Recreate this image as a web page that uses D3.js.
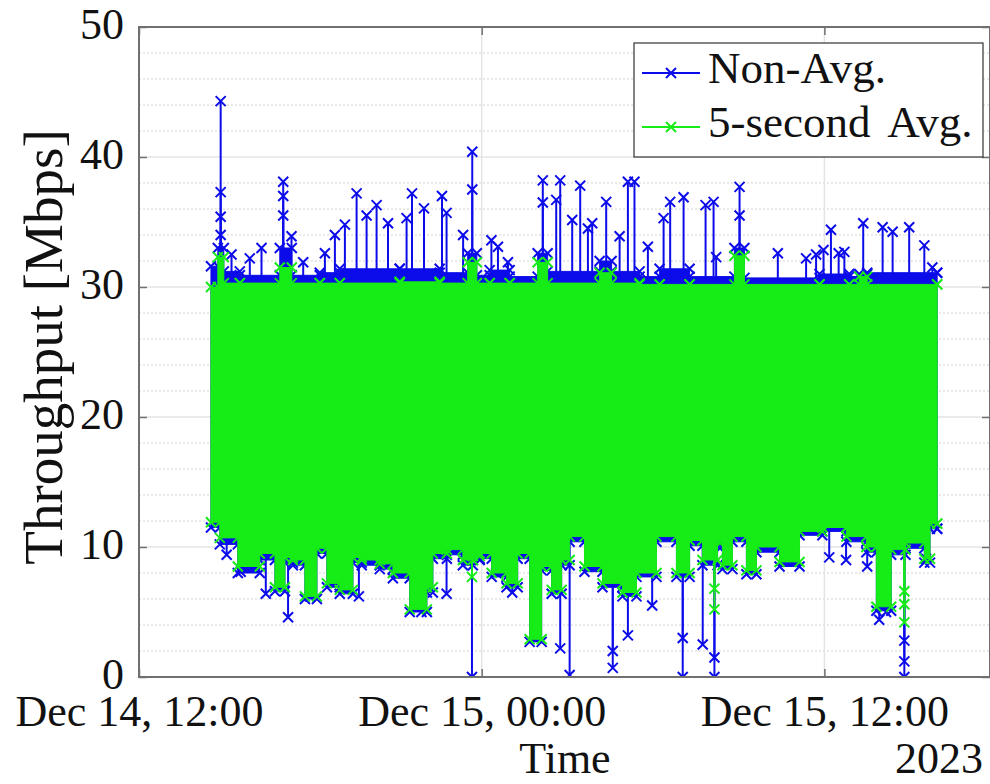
<!DOCTYPE html>
<html>
<head>
<meta charset="utf-8">
<script src="https://cdn.jsdelivr.net/npm/d3@7"></script>
<style>
  body { margin: 0; background: #fff; }
  text { font-family: "Liberation Serif", "Times New Roman", serif; fill: #111; }
</style>
</head>
<body>
<div id="chart"></div>
<script>
// hours after Dec 14 2023, 12:00
var startTime = new Date(2023, 11, 14, 12, 0);
var endHours = 29.8;

// lower edge of the dense band (step start times, values)
var lowT = [2.52, 2.83, 3.46, 4.23, 4.76, 5.11, 5.39, 5.81, 6.23, 6.58, 7.03, 7.49, 7.80, 8.43, 8.89,
  9.48, 10.08, 10.29, 10.78, 11.34, 11.69, 11.93, 12.35, 12.87, 13.26, 13.68, 14.10, 14.45, 14.80, 15.08,
  15.60, 16.23, 16.93, 17.42, 18.12, 18.82, 19.28, 19.73, 20.26, 20.43, 20.78, 21.27, 21.62, 22.43, 23.13,
  23.93, 24.77, 25.47, 25.82, 26.34, 26.84, 27.50, 27.70, 27.95];
var greenLow = [11.9, 10.7, 8.5, 9.5, 6.9, 9.2, 9.0, 6.2, 9.9, 7.2, 6.7, 9.2, 9.0, 8.7, 8.0,
  5.2, 6.9, 9.5, 9.8, 9.0, 9.3, 9.5, 8.0, 7.2, 9.5, 2.9, 8.5, 6.7, 9.0, 10.8,
  8.5, 7.2, 6.5, 8.0, 10.8, 8.0, 10.5, 9.0, 10.5, 8.6, 10.8, 8.2, 10.0, 8.85, 11.2,
  11.5, 10.8, 10.0, 5.4, 9.8, 10.3, 9.1, 11.8, 11.8];
var blueLow = [11.5, 10.2, 8.0, 9.0, 6.6, 8.8, 8.6, 6.0, 9.5, 6.9, 6.4, 8.8, 8.6, 8.3, 7.6,
  5.0, 6.5, 9.1, 9.4, 8.6, 9.0, 9.1, 7.7, 6.9, 9.1, 2.7, 8.2, 6.4, 8.6, 10.4,
  8.1, 6.9, 6.2, 7.7, 10.4, 7.7, 10.1, 8.6, 10.1, 8.3, 10.4, 7.9, 9.6, 8.5, 10.9,
  11.2, 10.4, 9.6, 5.1, 9.4, 9.9, 8.8, 11.4, 11.4];

// upper edge of the dense band
var topT = [2.52, 2.76, 2.97, 3.53, 4.93, 5.35, 6.33, 7.03, 9.13, 10.53, 11.51, 11.83, 12.28, 12.98,
  13.96, 14.31, 16.13, 16.55, 17.53, 18.23, 19.28, 20.85, 21.20, 23.83, 24.87, 25.22, 25.50, 27.95];
var greenTop = [30.0, 32.3, 30.3, 30.3, 31.5, 30.3, 30.3, 30.3, 30.4, 30.3, 31.9, 30.3, 30.3, 30.3,
  31.9, 30.3, 31.1, 30.3, 30.2, 30.2, 30.2, 32.4, 30.2, 30.2, 30.2, 30.8, 30.2, 30.2];
var blueTop = [31.6, 33.0, 31.2, 30.9, 33.0, 30.9, 31.1, 31.4, 31.4, 31.1, 32.6, 30.9, 31.3, 30.8,
  32.6, 31.2, 32.0, 31.2, 30.8, 31.4, 30.8, 33.0, 30.7, 31.0, 30.8, 31.0, 31.1, 31.1];

// isolated samples outside the band [hours, Mbps]
var blueSpikes = [
  [2.86, 44.3], [2.86, 37.3], [2.86, 35.4], [2.86, 34.0], [3.24, 32.5], [3.88, 32.2], [4.29, 33.0],
  [5.05, 38.1], [5.05, 37.0], [5.05, 35.5], [5.34, 33.9], [5.75, 31.9], [6.51, 32.6], [6.86, 34.0],
  [7.21, 34.8], [7.62, 37.2], [7.97, 35.5], [8.32, 36.3], [8.72, 34.9], [9.37, 35.3], [9.56, 37.2],
  [9.98, 36.05], [10.61, 37.0], [10.77, 35.7], [11.35, 34.0], [11.67, 40.4], [11.67, 37.5],
  [12.34, 33.6], [12.57, 33.1], [12.92, 31.9], [14.14, 38.2], [14.14, 36.5], [14.61, 36.7],
  [14.75, 38.2], [15.17, 35.15], [15.45, 37.8], [15.72, 34.5], [15.87, 34.9], [16.36, 36.55],
  [16.83, 33.9], [17.12, 38.1], [17.35, 38.1], [17.82, 33.1], [18.37, 35.3], [18.60, 36.55],
  [19.07, 36.9], [19.84, 36.3], [20.12, 36.55], [20.21, 32.3], [21.03, 37.7], [21.03, 35.5],
  [22.37, 32.6], [23.36, 32.2], [23.71, 32.5], [23.97, 32.85], [24.23, 34.4], [24.50, 32.6],
  [24.70, 32.7], [25.36, 34.9], [26.04, 34.6], [26.39, 34.25], [26.97, 34.6], [27.50, 33.2],
  [27.78, 31.5],
  [3.07, 9.4], [3.56, 8.1], [4.44, 6.4], [5.22, 4.6], [5.98, 6.2], [7.70, 6.2], [9.89, 5.0],
  [10.77, 6.4], [11.66, 0.0], [12.51, 8.0], [13.07, 6.5], [14.75, 2.2], [15.08, 0.15], [16.59, 0.7],
  [16.59, 2.0], [17.12, 3.2], [17.97, 5.5], [19.04, 0.0], [19.04, 3.0], [19.74, 2.5], [20.15, 0.0],
  [20.15, 1.5], [24.17, 9.2], [24.76, 9.0], [25.50, 8.5], [25.92, 4.4], [26.16, 5.0], [26.80, 0.0],
  [26.80, 1.2], [26.80, 2.8], [27.56, 9.1]
];
var greenSpikes = [
  [11.66, 7.7], [20.15, 5.2], [20.15, 6.8], [26.80, 4.2], [26.80, 5.6], [26.80, 6.6]
];
var bandMid = 20;

var yTicks = [0, 10, 20, 30, 40, 50];
var seriesNames = ["Non-Avg.", "5-second Avg."];
var blue = "#0c0cea";
var green = "#16ec16";

var svgWidth = 990;
var svgHeight = 784;
var margin = { top: 27, right: 0, bottom: 107, left: 139 };
var chartWidth = svgWidth - margin.left - margin.right;
var chartHeight = svgHeight - margin.top - margin.bottom;

var svg = d3.select("#chart")
  .append("svg")
  .attr("width", svgWidth)
  .attr("height", svgHeight);

var toDate = h => d3.timeSecond.offset(startTime, Math.round(h * 3600));

var x = d3.scaleTime()
  .domain([startTime, toDate(endHours)])
  .range([0, chartWidth]);
var y = d3.scaleLinear()
  .domain([0, 50])
  .range([chartHeight, 0]);

var chartGroup = svg.append("g")
  .attr("transform", `translate(${margin.left}, ${margin.top})`);

svg.append("defs").append("clipPath").attr("id", "clip")
  .append("rect").attr("width", chartWidth).attr("height", chartHeight);

// grid
var xTicks = x.ticks(d3.timeHour.every(12));
chartGroup.selectAll(".minor")
  .data(d3.range(2, 50, 2).filter(v => v % 10 !== 0))
  .enter().append("line")
  .attr("x1", 0).attr("x2", chartWidth)
  .attr("y1", d => y(d)).attr("y2", d => y(d))
  .attr("stroke", "#e2e2e2").attr("stroke-width", 1.5)
  .attr("stroke-dasharray", "2,2");
chartGroup.selectAll(".hgrid")
  .data(yTicks.slice(1, -1))
  .enter().append("line")
  .attr("x1", 0).attr("x2", chartWidth)
  .attr("y1", d => y(d)).attr("y2", d => y(d))
  .attr("stroke", "#e4e4e4").attr("stroke-width", 1.5);
chartGroup.selectAll(".vgrid")
  .data(xTicks.slice(1))
  .enter().append("line")
  .attr("x1", d => x(d)).attr("x2", d => x(d))
  .attr("y1", 0).attr("y2", chartHeight)
  .attr("stroke", "#e4e4e4").attr("stroke-width", 1.5);

var plot = chartGroup.append("g").attr("clip-path", "url(#clip)");
var xMark = "M-5,-5L5,5M-5,5L5,-5";

function stepPoints(ts, vs) {
  return ts.map((t, i) => [t, vs[i]]);
}

function drawSeries(top, low, spikes, color) {
  var topPts = stepPoints(topT, top);
  var lowPts = stepPoints(lowT, low);
  var band = d3.area().curve(d3.curveStepAfter)
    .x(d => x(toDate(d[0]))).y0(y(bandMid)).y1(d => y(d[1]));
  plot.append("path").datum(topPts).attr("d", band)
    .attr("fill", color).attr("stroke", color).attr("stroke-width", 1);
  plot.append("path").datum(lowPts).attr("d", band)
    .attr("fill", color).attr("stroke", color).attr("stroke-width", 1);

  plot.selectAll(null).data(spikes).enter().append("line")
    .attr("x1", d => x(toDate(d[0]))).attr("x2", d => x(toDate(d[0])))
    .attr("y1", y(bandMid)).attr("y2", d => y(d[1]))
    .attr("stroke", color).attr("stroke-width", 2);

  // markers at band edges (both ends of each step) and at the spikes
  var edgePts = [];
  [topPts, lowPts].forEach(pts => {
    pts.forEach((p, i) => {
      edgePts.push(p);
      if (i < pts.length - 1) edgePts.push([pts[i + 1][0], p[1]]);
    });
  });
  plot.selectAll(null).data(edgePts.concat(spikes)).enter().append("path")
    .attr("d", xMark)
    .attr("transform", d => `translate(${x(toDate(d[0]))},${y(d[1])})`)
    .attr("fill", "none").attr("stroke", color).attr("stroke-width", 2);
}

drawSeries(blueTop, blueLow, blueSpikes, blue);
drawSeries(greenTop, greenLow, greenSpikes, green);

// axes
var fmt = d3.timeFormat("%b %d, %H:%M");
var bottomAxis = d3.axisBottom(x).tickValues(xTicks).tickFormat(fmt).tickSize(-8).tickPadding(18);
var topAxis = d3.axisTop(x).tickValues(xTicks).tickFormat("").tickSize(-8);
var leftAxis = d3.axisLeft(y).tickValues(yTicks).tickSize(-8).tickPadding(15);
var rightAxis = d3.axisRight(y).tickValues(yTicks).tickFormat("").tickSize(-8);

function styleAxis(g) {
  g.select(".domain").remove();
  g.selectAll(".tick line").attr("stroke", "#707070").attr("stroke-width", 1.5);
  g.selectAll("text").attr("font-family", "Liberation Serif").attr("font-size", 44).attr("fill", "#111");
}

chartGroup.append("g").attr("transform", `translate(0, ${chartHeight})`).call(bottomAxis).call(styleAxis);
chartGroup.append("g").call(topAxis).call(styleAxis);
chartGroup.append("g").call(leftAxis).call(styleAxis)
  .selectAll("text").attr("dy", "0.25em");
chartGroup.append("g").attr("transform", `translate(${chartWidth}, 0)`).call(rightAxis).call(styleAxis);

chartGroup.append("rect")
  .attr("width", chartWidth).attr("height", chartHeight)
  .attr("fill", "none").attr("stroke", "#707070").attr("stroke-width", 2);

// labels
svg.append("text")
  .attr("transform", "translate(62, 347) rotate(-90)")
  .attr("text-anchor", "middle")
  .attr("font-size", 55)
  .text("Throughput [Mbps]");

svg.append("text")
  .attr("x", 565).attr("y", 773)
  .attr("text-anchor", "middle")
  .attr("font-size", 44)
  .text("Time");

svg.append("text")
  .attr("x", 983).attr("y", 773)
  .attr("text-anchor", "end")
  .attr("font-size", 44)
  .text("2023");

// legend
var legend = svg.append("g");
legend.append("rect")
  .attr("x", 634).attr("y", 43).attr("width", 349).attr("height", 114)
  .attr("fill", "#fff").attr("stroke", "#333").attr("stroke-width", 1.2);
[blue, green].forEach(function(c, i) {
  var ly = 73 + i * 54;
  legend.append("line")
    .attr("x1", 642).attr("x2", 700).attr("y1", ly).attr("y2", ly)
    .attr("stroke", c).attr("stroke-width", 2);
  legend.append("path")
    .attr("d", xMark).attr("transform", `translate(671,${ly})`)
    .attr("fill", "none").attr("stroke", c).attr("stroke-width", 2);
  legend.append("text")
    .attr("x", 708).attr("y", ly + 10)
    .attr("font-size", 45)
    .attr("word-spacing", 8)
    .text(seriesNames[i]);
});
</script>
</body>
</html>
